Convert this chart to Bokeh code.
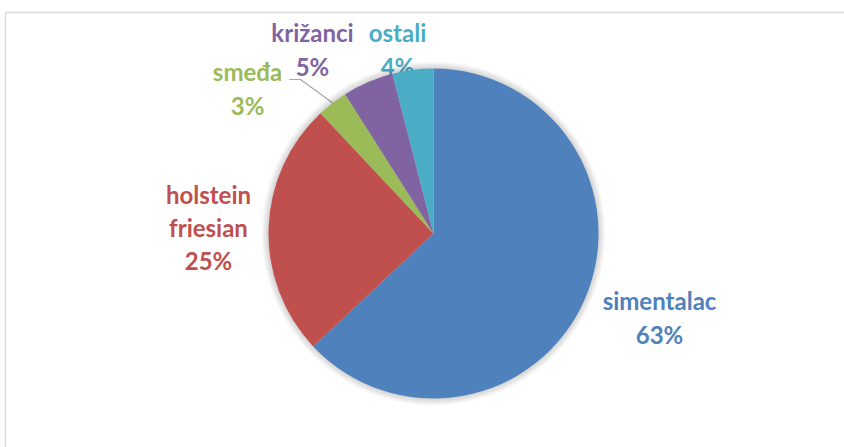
import math
from bokeh.plotting import figure
from bokeh.models import Range1d, ColumnDataSource
from bokeh.core.properties import value
from bokeh.embed import file_html
from bokeh.resources import INLINE

# ---- data ----
categories = ["simentalac", "holstein\nfriesian", "smeđa", "križanci", "ostali"]
shares = [63, 25, 3, 5, 4]
colors = ["#4F81BD", "#C0504D", "#9BBB59", "#8064A2", "#4BACC6"]

# ---- layout (pixel coordinates, y up) ----
W, H = 844, 447
cx, cy, R = 433, H - 233, 165
label_pos = [(659, H - 317), (208, H - 227), (247, H - 88), (312, H - 49), (397, H - 49)]

p = figure(width=W, height=H, output_backend="svg", toolbar_location=None,
           x_range=Range1d(0, W), y_range=Range1d(0, H), min_border=0,
           background_fill_color="white", border_fill_color="white")
p.axis.visible = False
p.grid.visible = False
p.outline_line_color = None

# chart frame
p.segment(x0=[5, 5], y0=[H - 12, H - 12], x1=[5, W], y1=[0, H - 12],
          line_color="#D9D9D9", line_width=1.3)

# labels
total = sum(shares)
texts = [f"{c}\n{round(100 * s / total)}%" for c, s in zip(categories, shares)]
src_t = ColumnDataSource(dict(x=[q[0] for q in label_pos], y=[q[1] for q in label_pos],
                              text=texts, color=colors))
p.text(x="x", y="y", text="text", source=src_t, text_color="color",
       text_font=value("Lato"), text_font_style="bold", text_font_size="24px",
       text_align="center", text_baseline="middle", text_line_height=1.15)

# leader line for smeđa
p.line(x=[289, 300, 333], y=[H - 79, H - 79, H - 103], line_color="#A6A6A6", line_width=1.2)

# soft shadow
for k in range(1, 8):
    p.circle(x=[cx], y=[cy], radius=R + k, fill_color="#000000", fill_alpha=0.025,
             line_color=None)

# wedges
starts, ends = [], []
a = math.pi / 2
for s in shares:
    b = a - 2 * math.pi * s / total
    starts.append(a)
    ends.append(b)
    a = b
src_w = ColumnDataSource(dict(start=starts, end=ends, color=colors))
p.wedge(x=cx, y=cy, radius=R, start_angle="start", end_angle="end", direction="clock",
        fill_color="color", line_color=None, source=src_w)

open("out.html", "w").write(file_html(p, INLINE))
